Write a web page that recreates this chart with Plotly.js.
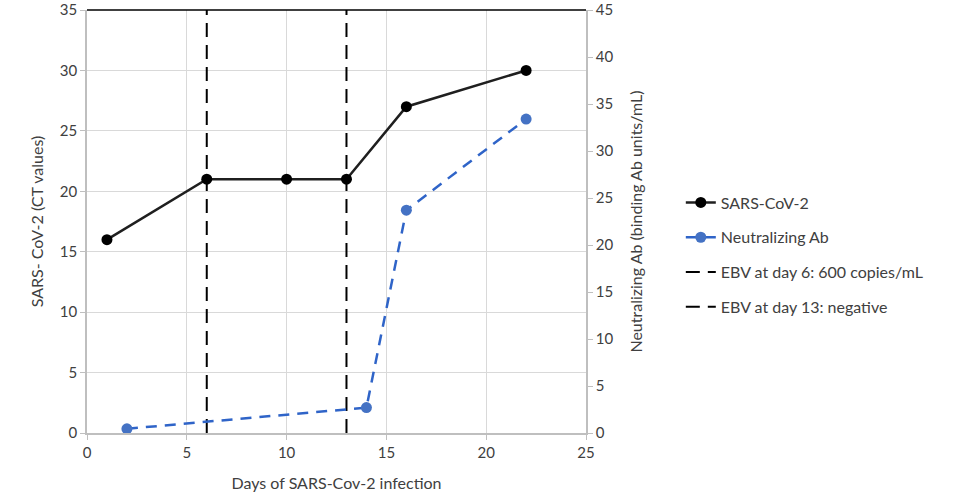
<!DOCTYPE html>
<html>
<head>
<meta charset="utf-8">
<script src="https://cdn.plot.ly/plotly-3.0.1.min.js"></script>
<style>html,body{margin:0;padding:0;background:#fff}</style>
</head>
<body>
<div id="chart" style="width:957px;height:502px"></div>
<script>
// SARS-CoV-2 CT values (left axis)
var ctDays = [1, 6, 10, 13, 16, 22];
var ctValues = [16, 21, 21, 21, 27, 30];

// neutralizing antibodies (right axis)
var abDays = [2, 14, 16, 22];
var abValues = [0.45, 2.7, 23.7, 33.4];

// EBV markers, vertical lines
var ebvDay6 = [6, 6];
var ebvDay13 = [13, 13];
var ebvSpan = [0, 35];

var txt = '#404040';
var fnt = 'Lato, "Open Sans", sans-serif';

var data = [
  {
    x: ctDays, y: ctValues, name: 'SARS-CoV-2',
    type: 'scatter', mode: 'lines+markers', legendgroup: 'a',
    line: {color: '#1f1f1f', width: 2.5},
    marker: {color: '#000000', size: 11}
  },
  {
    x: abDays, y: abValues, name: 'Neutralizing Ab', yaxis: 'y2',
    type: 'scatter', mode: 'lines+markers', legendgroup: 'b',
    line: {color: '#2f64c8', width: 2.5, dash: '11px,8px'},
    marker: {color: '#4472c4', size: 11}
  },
  {
    x: ebvDay6, y: ebvSpan, name: 'EBV at day 6: 600 copies/mL',
    type: 'scatter', mode: 'lines', legendgroup: 'c',
    line: {color: '#000000', width: 2, dash: '14px,8px'}
  },
  {
    x: ebvDay13, y: ebvSpan, name: 'EBV at day 13: negative',
    type: 'scatter', mode: 'lines', legendgroup: 'd',
    line: {color: '#000000', width: 2, dash: '14px,8px'}
  }
];

var layout = {
  width: 957,
  height: 502,
  margin: {l: 87, r: 371, t: 10, b: 69},
  paper_bgcolor: '#ffffff',
  plot_bgcolor: '#ffffff',
  font: {family: fnt, size: 15, color: txt},
  showlegend: true,
  legend: {
    x: 1.19, y: 0.585, xanchor: 'left', yanchor: 'top',
    font: {family: fnt, size: 16, color: txt},
    tracegroupgap: 11,
    traceorder: 'grouped'
  },
  xaxis: {
    range: [0, 25], dtick: 5,
    showgrid: true, gridcolor: '#d9d9d9', gridwidth: 1,
    showline: true, linecolor: '#bfbfbf', linewidth: 1.5,
    ticks: 'outside', ticklen: 5, tickcolor: '#bfbfbf',
    zeroline: false,
    tickfont: {family: fnt, size: 15, color: txt},
    title: {text: 'Days of SARS-Cov-2 infection', font: {family: fnt, size: 16, color: txt}, standoff: 18}
  },
  yaxis: {
    range: [0, 35], dtick: 5,
    showgrid: true, gridcolor: '#d9d9d9', gridwidth: 1,
    showline: true, linecolor: '#bfbfbf', linewidth: 1.5,
    ticks: 'outside', ticklen: 5, tickcolor: '#bfbfbf',
    zeroline: false,
    tickfont: {family: fnt, size: 15, color: txt},
    title: {text: 'SARS- CoV-2 (CT values)', font: {family: fnt, size: 16, color: txt}, standoff: 12}
  },
  yaxis2: {
    range: [0, 45], dtick: 5,
    overlaying: 'y', side: 'right',
    showgrid: false,
    showline: true, linecolor: '#bfbfbf', linewidth: 1.5,
    ticks: 'outside', ticklen: 5, tickcolor: '#bfbfbf',
    zeroline: false,
    tickfont: {family: fnt, size: 15, color: txt},
    title: {text: 'Neutralizing Ab (binding Ab units/mL)', font: {family: fnt, size: 16, color: txt}, standoff: 18}
  },
  shapes: [
    {type: 'line', xref: 'paper', yref: 'paper', x0: 0, x1: 1, y0: 1, y1: 1,
     line: {color: '#000000', width: 1.5}}
  ]
};

Plotly.newPlot('chart', data, layout, {displayModeBar: false});
</script>
</body>
</html>
